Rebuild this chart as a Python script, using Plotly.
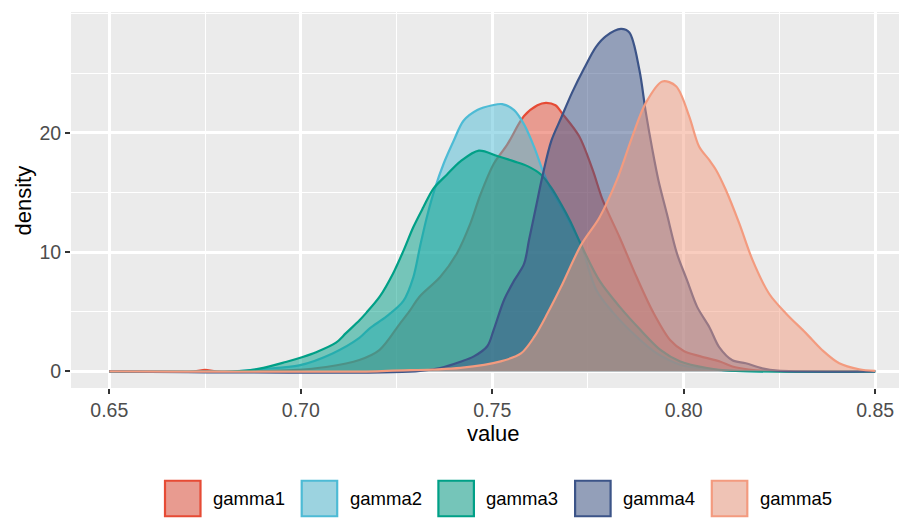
import plotly.graph_objects as go

# density curves (value -> density)
g1_x = [0.65, 0.672, 0.675, 0.678, 0.69, 0.698, 0.7066, 0.7153, 0.7206, 0.7259, 0.7283, 0.731, 0.7364,
        0.7408, 0.7443, 0.7469, 0.7504, 0.7539, 0.7583, 0.7618, 0.764, 0.7665, 0.7683, 0.7727, 0.7762,
        0.7789, 0.7833, 0.7877, 0.7921, 0.7965, 0.800, 0.8044, 0.8096, 0.8127, 0.817, 0.822, 0.85]
g1_y = [0, 0, 0.12, 0, 0.02, 0.1, 0.36, 0.95, 1.8, 4.0, 5.0, 6.25, 7.9,
        9.9, 12.4, 14.8, 17.4, 19.0, 21.4, 22.3, 22.5, 22.3, 21.6, 19.7, 16.9,
        14.3, 11.2, 7.9, 4.9, 2.6, 1.7, 1.25, 0.8, 0.4, 0.15, 0.03, 0]

g2_x = [0.65, 0.682, 0.686, 0.69, 0.6996, 0.7083, 0.7153, 0.718, 0.7224, 0.7268, 0.7294, 0.7311, 0.7329,
        0.7351, 0.7373, 0.7399, 0.7425, 0.7461, 0.750, 0.7526, 0.7557, 0.7583, 0.761, 0.7632, 0.7654,
        0.768, 0.771, 0.7732, 0.7772, 0.7816, 0.7877, 0.793, 0.7991, 0.806, 0.812, 0.85]
g2_y = [0, 0, 0.08, 0.2, 0.5, 1.5, 2.8, 3.6, 4.6, 5.9, 7.9, 10.4, 12.9,
        15.4, 17.4, 19.3, 21.0, 21.9, 22.3, 22.4, 21.9, 20.7, 18.75, 16.8, 15.2,
        13.8, 12.0, 10.6, 6.8, 4.9, 2.9, 1.5, 0.55, 0.2, 0.05, 0]

g3_x = [0.65, 0.683, 0.6892, 0.6961, 0.7005, 0.704, 0.7092, 0.7118, 0.7154, 0.7171, 0.7206, 0.7241, 0.7268,
        0.7294, 0.732, 0.7346, 0.7382, 0.7417, 0.7465, 0.7513, 0.7557, 0.7592, 0.7627, 0.7654, 0.768,
        0.7705, 0.7732, 0.778, 0.7833, 0.7886, 0.7939, 0.7991, 0.8061, 0.812, 0.85]
g3_y = [0, 0, 0.22, 0.78, 1.2, 1.6, 2.4, 3.2, 4.3, 4.9, 6.25, 8.2, 10.1,
        12.1, 13.75, 15.3, 16.5, 17.6, 18.5, 18.05, 17.6, 17.2, 16.5, 15.4, 14.0,
        12.5, 10.6, 7.6, 5.4, 3.5, 1.8, 0.83, 0.28, 0.05, 0]

g4_x = [0.65, 0.73, 0.7364, 0.7417, 0.7452, 0.7487, 0.7504, 0.7531, 0.7557, 0.7583, 0.7596, 0.7614, 0.7632,
        0.7654, 0.768, 0.7709, 0.774, 0.7771, 0.7797, 0.7836, 0.7858, 0.7884, 0.7901, 0.7918, 0.7934,
        0.7956, 0.7982, 0.8009, 0.8035, 0.8067, 0.8093, 0.8127, 0.8162, 0.8205, 0.8245, 0.85]
g4_y = [0, 0, 0.28, 0.8, 1.25, 2.1, 3.5, 6.0, 7.6, 9.0, 11.0, 13.75, 16.5,
        19.3, 21.25, 23.4, 25.4, 27.2, 28.1, 28.7, 28.4, 25.3, 21.7, 18.6, 16.0,
        13.2, 9.9, 7.6, 5.4, 3.7, 2.0, 0.92, 0.67, 0.25, 0.05, 0]

g5_x = [0.65, 0.72, 0.724, 0.7344, 0.7417, 0.7522, 0.7575, 0.761, 0.7645, 0.768, 0.7732, 0.7780, 0.7825,
        0.7866, 0.7901, 0.7944, 0.798, 0.8014, 0.804, 0.8067, 0.8084, 0.811, 0.8145, 0.818, 0.8223,
        0.8267, 0.8319, 0.8362, 0.8406, 0.8458, 0.85]
g5_y = [0, 0, 0.06, 0.15, 0.28, 0.83, 1.5, 2.9, 4.9, 7.1, 10.6, 12.9, 16.0,
        19.7, 22.5, 24.3, 23.9, 21.4, 18.85, 17.7, 16.9, 15.2, 12.4, 9.3, 6.5,
        4.85, 3.2, 1.76, 0.67, 0.17, 0.03]

names = ['gamma1', 'gamma2', 'gamma3', 'gamma4', 'gamma5']
xs = [g1_x, g2_x, g3_x, g4_x, g5_x]
ys = [g1_y, g2_y, g3_y, g4_y, g5_y]
x_ticks = [0.65, 0.70, 0.75, 0.80, 0.85]
y_ticks = [0, 10, 20]

colors = ['#E64B35', '#4DBBD5', '#00A087', '#3C5488', '#F39B7F']


def rgba(hex_col, a):
    h = hex_col.lstrip('#')
    return 'rgba(%d,%d,%d,%s)' % (int(h[0:2], 16), int(h[2:4], 16), int(h[4:6], 16), a)


fig = go.Figure()
for name, x, y, c in zip(names, xs, ys, colors):
    fig.add_trace(go.Scatter(
        x=x, y=y, name=name, mode='lines',
        line=dict(color=c, width=2.2, shape='spline', smoothing=0.9),
        fill='tozeroy', fillcolor=rgba(c, 0.5),
        showlegend=False, hoverinfo='x+y+name'
    ))

# the page body adds an 8px margin, so the figure is drawn 8px in from the window corner
OFF = 8
W, H = 907 - OFF, 518 - OFF
L, R, T, B = 71 - OFF, 0, 12 - OFF, 130
pw, ph = W - L - R, H - T - B


def px_x(px):
    return (px - OFF - L) / pw


def px_y(py):
    return (H + OFF - B - py) / ph


font = 'Liberation Sans, Arial, sans-serif'

# legend drawn at the bottom like ggplot's keys
shapes = []
annotations = []
key_left, key_step, key_size, key_mid = 165, 136.7, 35.5, 498.5
for i, (name, c) in enumerate(zip(names, colors)):
    x0 = key_left + i * key_step
    for fc, lc in [('#EBEBEB', 'rgba(0,0,0,0)'), (rgba(c, 0.5), c)]:
        shapes.append(dict(type='rect', xref='paper', yref='paper',
                           x0=px_x(x0), x1=px_x(x0 + key_size),
                           y0=px_y(key_mid - key_size / 2), y1=px_y(key_mid + key_size / 2),
                           fillcolor=fc, line=dict(color=lc, width=2.2), layer='above'))
    annotations.append(dict(text=name, xref='paper', yref='paper', showarrow=False,
                            x=px_x(x0 + key_size + 10.5), y=px_y(key_mid),
                            xanchor='left', yanchor='middle',
                            font=dict(family=font, size=18.5, color='black')))

annotations.append(dict(text='value', xref='paper', yref='paper', showarrow=False,
                        x=px_x(493), y=px_y(448), xanchor='center', yanchor='bottom',
                        font=dict(family=font, size=22, color='black')))
annotations.append(dict(text='density', xref='paper', yref='paper', showarrow=False,
                        x=px_x(8), y=0.5, xanchor='left', yanchor='middle', textangle=-90,
                        font=dict(family=font, size=22, color='black')))

fig.update_layout(
    width=W, height=H,
    margin=dict(l=L, r=R, t=T, b=B),
    paper_bgcolor='white', plot_bgcolor='#EBEBEB',
    font=dict(family=font),
    shapes=shapes, annotations=annotations,
    hovermode='closest'
)
fig.update_xaxes(
    range=[0.64, 0.8583], tickvals=x_ticks, ticktext=['%.2f' % v for v in x_ticks],
    showgrid=True, gridcolor='white', gridwidth=2.6, zeroline=False, showline=False,
    ticks='outside', ticklen=5, tickwidth=2, tickcolor='#333333',
    tickfont=dict(family=font, size=19.5, color='#4D4D4D'),
    minor=dict(dtick=0.025, tick0=0.625, showgrid=True, gridcolor='white', gridwidth=1.3, ticks=''),
)
fig.update_yaxes(
    range=[-1.4, 30.12], tickvals=y_ticks,
    showgrid=True, gridcolor='white', gridwidth=2.6, zeroline=False, showline=False,
    ticks='outside', ticklen=5, tickwidth=2, tickcolor='#333333',
    tickfont=dict(family=font, size=19.5, color='#4D4D4D'),
    minor=dict(dtick=5, tick0=0, showgrid=True, gridcolor='white', gridwidth=1.3, ticks=''),
)

fig.write_html('out.html')
